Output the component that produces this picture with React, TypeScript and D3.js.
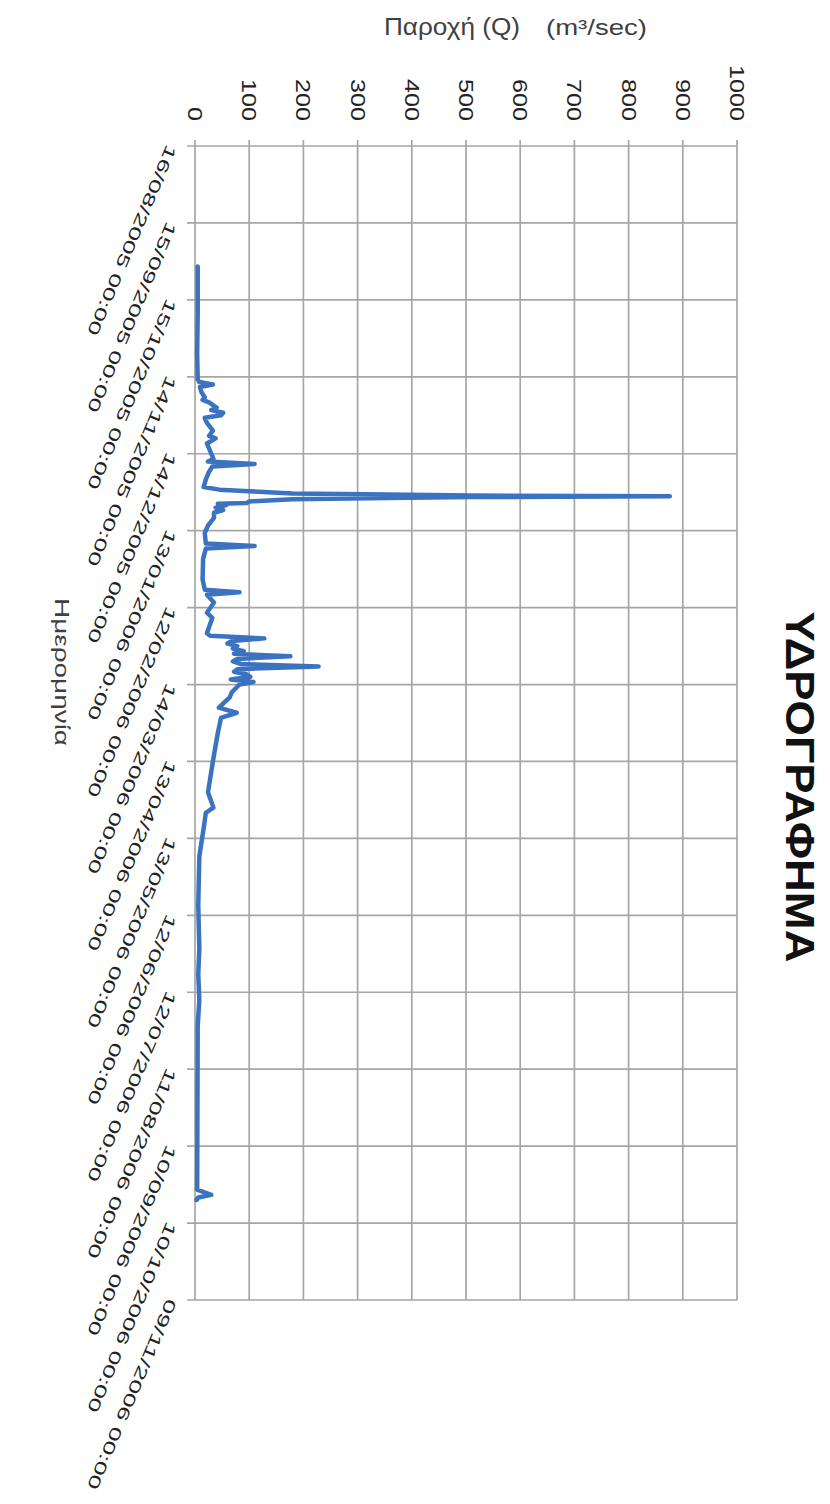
import React from "react";
import * as d3 from "d3";

const chartTitle = "ΥΔΡΟΓΡΑΦΗΜΑ";
const valueAxisTitleMain = "Παροχή (Q)";
const valueAxisTitleUnit = "(m³/sec)";
const dateAxisTitle = "Ημερομηνία";

const valueTicks = [0, 100, 200, 300, 400, 500, 600, 700, 800, 900, 1000];

const dateTickLabels = [
  "16/08/2005 00:00", "15/09/2005 00:00", "15/10/2005 00:00", "14/11/2005 00:00",
  "14/12/2005 00:00", "13/01/2006 00:00", "12/02/2006 00:00", "14/03/2006 00:00",
  "13/04/2006 00:00", "13/05/2006 00:00", "12/06/2006 00:00", "12/07/2006 00:00",
  "11/08/2006 00:00", "10/09/2006 00:00", "10/10/2006 00:00", "09/11/2006 00:00",
];

const flowDates = [
  "2005-10-02 00:00", "2005-10-20 00:00", "2005-11-05 00:00", "2005-11-15 00:00",
  "2005-11-16 00:00", "2005-11-17 00:00", "2005-11-18 00:00", "2005-11-20 00:00",
  "2005-11-22 00:00", "2005-11-23 00:00", "2005-11-24 00:00", "2005-11-26 00:00",
  "2005-11-27 00:00", "2005-11-28 00:00", "2005-11-29 00:00", "2005-11-30 00:00",
  "2005-12-02 00:00", "2005-12-05 00:00", "2005-12-07 00:00", "2005-12-08 00:00",
  "2005-12-10 00:00", "2005-12-13 00:00", "2005-12-16 00:00", "2005-12-17 00:00",
  "2005-12-18 00:00", "2005-12-19 00:00", "2005-12-21 00:00", "2005-12-24 00:00",
  "2005-12-27 00:00", "2005-12-28 00:00", "2005-12-28 14:00", "2005-12-29 12:00",
  "2005-12-29 22:00", "2005-12-30 07:00", "2005-12-30 14:00", "2005-12-30 22:00",
  "2005-12-31 07:00", "2005-12-31 17:00", "2006-01-01 14:00", "2006-01-02 06:00",
  "2006-01-02 12:00", "2006-01-03 00:00", "2006-01-04 00:00", "2006-01-05 00:00",
  "2006-01-06 00:00", "2006-01-08 00:00", "2006-01-11 00:00", "2006-01-14 00:00",
  "2006-01-18 00:00", "2006-01-19 00:00", "2006-01-20 00:00", "2006-01-24 00:00",
  "2006-02-01 00:00", "2006-02-05 00:00", "2006-02-06 00:00", "2006-02-07 00:00",
  "2006-02-10 00:00", "2006-02-14 00:00", "2006-02-16 00:00", "2006-02-22 00:00",
  "2006-02-23 00:00", "2006-02-24 00:00", "2006-02-25 00:00", "2006-02-26 00:00",
  "2006-02-27 00:00", "2006-02-28 00:00", "2006-03-01 00:00", "2006-03-02 00:00",
  "2006-03-03 00:00", "2006-03-04 00:00", "2006-03-05 00:00", "2006-03-06 00:00",
  "2006-03-07 00:00", "2006-03-08 00:00", "2006-03-09 00:00", "2006-03-10 00:00",
  "2006-03-11 00:00", "2006-03-12 00:00", "2006-03-13 00:00", "2006-03-14 00:00",
  "2006-03-17 00:00", "2006-03-19 00:00", "2006-03-23 00:00", "2006-03-25 00:00",
  "2006-03-27 00:00", "2006-04-02 00:00", "2006-04-13 00:00", "2006-04-25 00:00",
  "2006-05-01 00:00", "2006-05-03 00:00", "2006-05-09 00:00", "2006-05-20 00:00",
  "2006-06-08 00:00", "2006-06-25 00:00", "2006-07-05 00:00", "2006-07-15 00:00",
  "2006-07-25 00:00", "2006-09-27 00:00", "2006-09-29 00:00", "2006-09-30 00:00",
  "2006-10-01 00:00",
];

const flowValues = [
  5, 5, 4, 5,
  8, 33, 9, 12,
  18, 14, 26, 40,
  30, 52, 48, 18,
  22, 33, 26, 38,
  22, 28, 34, 24,
  110, 32, 26, 20,
  16, 45, 100, 180,
  355, 510, 876, 510,
  355, 180, 100, 95,
  42, 58, 38, 52,
  35, 35, 24, 18,
  20, 110, 20, 15,
  14, 18, 82, 22,
  35, 22, 32, 22,
  28, 128, 68, 60,
  78, 70, 90, 72,
  176, 78, 70, 85,
  228, 78, 72, 95,
  102, 66, 108, 82,
  68, 64, 44, 77,
  48, 42, 33, 24,
  34, 20, 16, 8,
  6, 8, 6, 8,
  5, 4, 30, 6,
  3,
];

const W = 830;
const H = 1504;
const FONT = "'Liberation Sans', Arial, sans-serif";

export default function App() {
  const parseTick = d3.utcParse("%d/%m/%Y %H:%M");
  const parseData = d3.utcParse("%Y-%m-%d %H:%M");
  const tickDates = dateTickLabels.map((s) => parseTick(s) as Date);

  const y = d3
    .scaleUtc()
    .domain([tickDates[0], tickDates[tickDates.length - 1]])
    .range([146, 1300]);
  const x = d3.scaleLinear().domain([0, 1000]).range([195, 737]);

  const pts: [Date, number][] = flowDates.map((d, i) => [parseData(d) as Date, flowValues[i]]);
  const line = d3
    .line<[Date, number]>()
    .x((d) => x(d[1]))
    .y((d) => y(d[0]));

  const grid = "#a6a6a6";
  const [x0, x1] = x.range();
  const [y0, y1] = y.range();

  return (
    <svg
      width={W}
      height={H}
      viewBox={`0 0 ${W} ${H}`}
      style={{ position: "absolute", left: 0, top: 0, background: "#fff" }}
      fontFamily={FONT}
    >
      <rect width={W} height={H} fill="#fff" />
      {valueTicks.map((v) => (
        <line key={"vg" + v} x1={x(v)} x2={x(v)} y1={y0 - 6} y2={y1} stroke={grid} strokeWidth={1.7} />
      ))}
      {tickDates.map((d, i) => (
        <line key={"hg" + i} x1={x0 - 8} x2={x1} y1={y(d)} y2={y(d)} stroke={grid} strokeWidth={1.7} />
      ))}

      {valueTicks.map((v) => (
        <text
          key={"vt" + v}
          transform={`translate(${x(v)},121) rotate(90)`}
          textAnchor="end"
          dy="0.35em"
          fontSize={20}
          fill="#222"
          textLength={String(v).length * 14}
          lengthAdjust="spacingAndGlyphs"
        >
          {v}
        </text>
      ))}

      {tickDates.map((d, i) => (
        <text
          key={"dt" + i}
          transform={`translate(172,${y(d)}) rotate(113)`}
          textAnchor="start"
          dy="0.35em"
          fontSize={16}
          fill="#222"
          textLength={205}
          lengthAdjust="spacingAndGlyphs"
        >
          {dateTickLabels[i]}
        </text>
      ))}

      <path
        d={line(pts) || ""}
        fill="none"
        stroke="#3b73c0"
        strokeWidth={4.5}
        strokeLinejoin="round"
        strokeLinecap="round"
      />

      <g transform="translate(0,35) scale(1,1.15)">
        <text x={384} y={0} fontSize={20} fill="#404040" textLength={136} lengthAdjust="spacingAndGlyphs">
          {valueAxisTitleMain}
        </text>
        <text x={546} y={0} fontSize={19} fill="#404040" textLength={101} lengthAdjust="spacingAndGlyphs">
          {valueAxisTitleUnit}
        </text>
      </g>

      <text
        transform="translate(62,672) rotate(90)"
        textAnchor="middle"
        dy="0.35em"
        fontSize={20}
        fill="#404040"
        textLength={148}
        lengthAdjust="spacingAndGlyphs"
      >
        {dateAxisTitle}
      </text>

      <text
        transform="translate(800,787) rotate(90)"
        textAnchor="middle"
        dy="0.35em"
        fontSize={40}
        fontWeight="bold"
        fill="#111"
        textLength={351}
        lengthAdjust="spacingAndGlyphs"
      >
        {chartTitle}
      </text>
    </svg>
  );
}
